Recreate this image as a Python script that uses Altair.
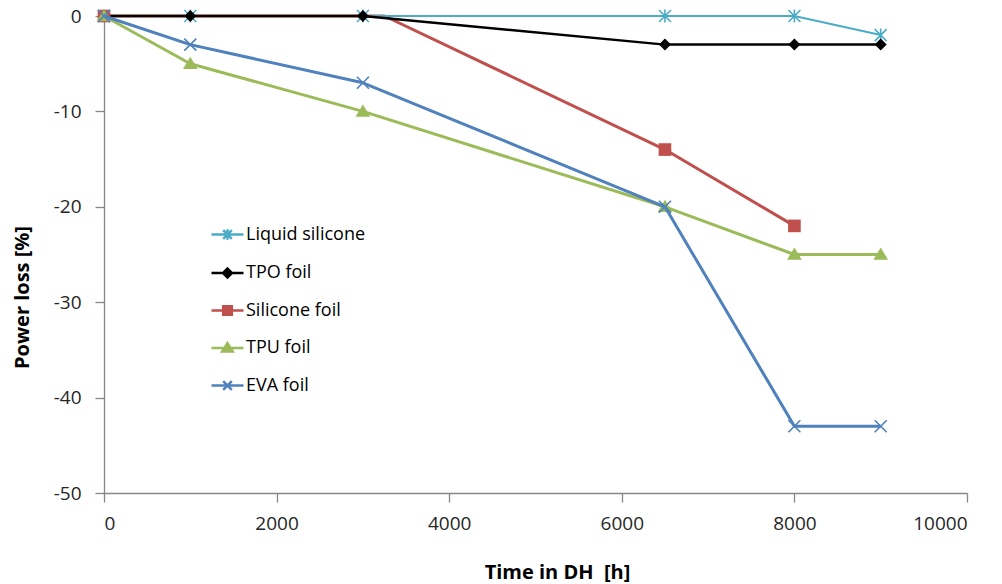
import altair as alt
import pandas as pd

# ---- data ----
series_names = ["Liquid silicone", "TPO foil", "Silicone foil", "TPU foil", "EVA foil"]
colors = ["#4BACC6", "#000000", "#C0504D", "#9BBB59", "#4F81BD"]

hours = [0, 1000, 3000, 6500, 8000, 9000]
liquid_silicone = [0, 0, 0, 0, 0, -2]
tpo_foil = [0, 0, 0, -3, -3, -3]
silicone_hours = [0, 3250, 6500, 8000]
silicone_foil = [0, 0, -14, -22]
silicone_marker = [True, False, True, True]
tpu_foil = [0, -5, -10, -20, -25, -25]
eva_foil = [0, -3, -7, -20, -43, -43]

x_ticks = [0, 2000, 4000, 6000, 8000, 10000]
y_ticks = [0, -10, -20, -30, -40, -50]

rows = []
for name, xs, ys, ms in [
    ("Liquid silicone", hours, liquid_silicone, [True] * 6),
    ("TPO foil", hours, tpo_foil, [True] * 6),
    ("Silicone foil", silicone_hours, silicone_foil, silicone_marker),
    ("TPU foil", hours, tpu_foil, [True] * 6),
    ("EVA foil", hours, eva_foil, [True] * 6),
]:
    for xv, yv, mv in zip(xs, ys, ms):
        rows.append({"series": name, "hours": xv, "loss": yv, "marker": mv})
df = pd.DataFrame(rows)

FONT = "Open Sans"

# marker shapes (unit paths)
ast = "M-1,-1L1,1M-1,1L1,-1M0,-1.1L0,1.1"
xmark = "M-1,-1L1,1M-1,1L1,-1"
diamond = "M0,-1L1,0L0,1L-1,0Z"
square = "M-1,-1L1,-1L1,1L-1,1Z"
triangle = "M0,-1L1.05,0.75L-1.05,0.75Z"

marker_style = {
    "Liquid silicone": dict(shape=ast, filled=False, size=144, strokeWidth=1.6),
    "TPO foil": dict(shape=diamond, filled=True, size=144),
    "Silicone foil": dict(shape=square, filled=True, size=160),
    "TPU foil": dict(shape=triangle, filled=True, size=196),
    "EVA foil": dict(shape=xmark, filled=False, size=144, strokeWidth=1.6),
}
line_width = {"Liquid silicone": 2, "TPO foil": 2.5, "Silicone foil": 3, "TPU foil": 3, "EVA foil": 3}
color_of = dict(zip(series_names, colors))

x_enc = alt.X("hours:Q", scale=alt.Scale(domain=[0, 10000], nice=False),
              axis=alt.Axis(values=x_ticks, title="Time in DH\u00a0 [h]", grid=False,
                            labelExpr="'' + datum.value",
                            tickSize=9, labelPadding=12, titleX=453, titleY=79,
                            titleAlign="center", titleBaseline="middle"))
y_enc = alt.Y("loss:Q", scale=alt.Scale(domain=[-50, 0], nice=False),
              axis=alt.Axis(values=y_ticks, title="Power loss [%]", grid=False,
                            labelExpr="'' + datum.value",
                            tickSize=9, labelPadding=14, titleX=-82, titleY=281,
                            titleAngle=270, titleAlign="center", titleBaseline="middle"))

base = alt.Chart(df)


def line_layer(name):
    return base.transform_filter(alt.datum.series == name).mark_line(
        color=color_of[name], strokeWidth=line_width[name], strokeJoin="round"
    ).encode(x=x_enc, y=y_enc)


def point_layer(name):
    st = dict(marker_style[name])
    return base.transform_filter(
        (alt.datum.series == name) & (alt.datum.marker == True)
    ).mark_point(color=color_of[name], opacity=1, **st).encode(x=x_enc, y=y_enc)


# legend: a line plus the marker in each symbol
leg_line = "M-1,0L1,0"
legend_paths = [
    leg_line + "M-0.27,-0.27L0.27,0.27M-0.27,0.27L0.27,-0.27M0,-0.33L0,0.33",
    leg_line + "M0,-0.28L0.28,0L0,0.28L-0.28,0Z",
    leg_line + "M-0.27,-0.27L0.27,-0.27L0.27,0.27L-0.27,0.27Z",
    leg_line + "M0,-0.3L0.33,0.22L-0.33,0.22Z",
    leg_line + "M-0.27,-0.27L0.27,0.27M-0.27,0.27L0.27,-0.27",
]

leg = alt.Legend(orient="none", legendX=106, legendY=201, title=None, direction="vertical",
                 symbolSize=1024, symbolStrokeWidth=2.5, labelFont=FONT, labelFontSize=18,
                 labelColor="#000000", rowPadding=10.5, labelOffset=1, padding=0)

legend_layer = base.transform_filter("false").mark_point(
    filled=True, size=1024, strokeWidth=2.5, opacity=1
).encode(
    x=x_enc, y=y_enc,
    fill=alt.Fill("series:N", scale=alt.Scale(domain=series_names, range=colors), legend=leg),
    stroke=alt.Stroke("series:N", scale=alt.Scale(domain=series_names, range=colors), legend=leg),
    shape=alt.Shape("series:N", scale=alt.Scale(domain=series_names, range=legend_paths), legend=leg),
)

layers = [
    line_layer("Silicone foil"),
    line_layer("Liquid silicone"), point_layer("Liquid silicone"),
    line_layer("TPO foil"), point_layer("TPO foil"),
    point_layer("Silicone foil"),
    line_layer("TPU foil"), point_layer("TPU foil"),
    line_layer("EVA foil"), point_layer("EVA foil"),
    legend_layer,
]

chart = alt.layer(*layers).properties(
    width=863, height=477,
    autosize=alt.AutoSizeParams(type="none"),
    padding={"left": 104, "top": 16, "right": 35, "bottom": 91},
).configure_view(stroke=None).configure_axis(
    domainColor="#868686", tickColor="#868686", domainWidth=1.3, tickWidth=1.3,
    labelFont=FONT, labelFontSize=19, labelColor="#262626",
    titleFont=FONT, titleFontSize=20, titleFontWeight="bold", titleColor="#000000",
)

chart.save("out.html", embed_options={"renderer": "svg", "actions": False})
